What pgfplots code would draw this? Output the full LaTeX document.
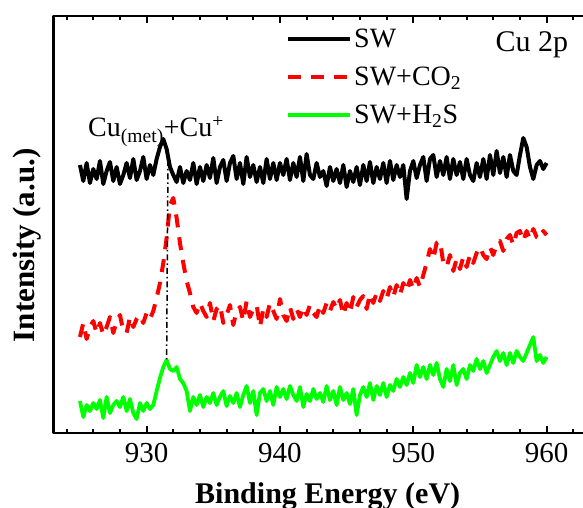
\documentclass[border=0pt]{standalone}
\usepackage{fontspec}
\setmainfont{Liberation Serif}
\usepackage{pgfplots}
\pgfplotsset{compat=1.18}
\usepackage{pgfplotstable}

\pgfplotstableread{
x y
925.00 268
925.25 252
925.50 270
925.75 250
926.00 264
926.25 254
926.50 272
926.75 249
927.00 262
927.25 271
927.50 252
927.75 266
928.00 249
928.25 258
928.50 270
928.75 255
929.00 274
929.25 253
929.50 262
929.75 276
930.00 254
930.25 268
930.50 258
930.75 274
931.00 286
931.25 294
931.50 284
931.75 266
932.00 258
932.25 251
932.50 266
932.75 250
933.00 262
933.25 253
933.50 270
933.75 249
934.00 266
934.25 252
934.50 268
934.75 255
935.00 275
935.25 250
935.50 266
935.75 273
936.00 252
936.25 270
936.50 277
936.75 254
937.00 270
937.25 249
937.50 276
937.75 256
938.00 268
938.25 251
938.50 266
938.75 250
939.00 274
939.25 254
939.50 270
939.75 253
940.00 270
940.25 258
940.50 274
940.75 253
941.00 270
941.25 256
941.50 276
941.75 252
942.00 279
942.25 258
942.50 254
942.75 270
943.00 256
943.25 262
943.50 247
943.75 266
944.00 252
944.25 264
944.50 250
944.75 268
945.00 246
945.25 262
945.50 251
945.75 266
946.00 248
946.25 268
946.50 252
946.75 271
947.00 250
947.25 266
947.50 254
947.75 270
948.00 250
948.25 272
948.50 253
948.75 268
949.00 256
949.25 268
949.50 234
949.75 262
950.00 272
950.25 255
950.50 268
950.75 276
951.00 252
951.25 274
951.50 278
951.75 256
952.00 272
952.25 258
952.50 276
952.75 254
953.00 274
953.25 258
953.50 271
953.75 254
954.00 274
954.25 258
954.50 252
954.75 270
955.00 256
955.25 274
955.50 254
955.75 278
956.00 258
956.25 282
956.50 260
956.75 276
957.00 256
957.25 278
957.50 262
957.75 258
958.00 278
958.25 295
958.50 286
958.75 266
959.00 254
959.25 268
959.50 272
959.75 264
960.00 270
}\sw

\pgfplotstableread{
x y
925.00 96
925.25 110
925.50 94
925.75 106
926.00 112
926.25 100
926.50 110
926.75 98
927.00 106
927.25 116
927.50 100
927.75 112
928.00 118
928.25 102
928.50 100
928.75 116
929.00 106
929.25 114
929.50 118
929.75 110
930.00 120
930.25 114
930.50 122
930.75 135
931.00 150
931.25 170
931.50 195
931.75 228
932.00 235
932.25 215
932.50 190
932.75 170
933.00 152
933.25 140
933.50 126
933.75 120
934.00 130
934.25 122
934.50 116
934.75 130
935.00 112
935.25 124
935.50 128
935.75 110
936.00 118
936.25 128
936.50 108
936.75 122
937.00 126
937.25 112
937.50 132
937.75 116
938.00 124
938.25 128
938.50 106
938.75 124
939.00 116
939.25 130
939.50 122
939.75 114
940.00 134
940.25 118
940.50 112
940.75 126
941.00 114
941.25 124
941.50 116
941.75 126
942.00 118
942.25 128
942.50 120
942.75 116
943.00 128
943.25 120
943.50 130
943.75 122
944.00 131
944.25 124
944.50 133
944.75 118
945.00 130
945.25 120
945.50 136
945.75 126
946.00 133
946.25 137
946.50 124
946.75 139
947.00 130
947.25 140
947.50 132
947.75 142
948.00 134
948.25 146
948.50 136
948.75 148
949.00 138
949.25 150
949.50 142
949.75 153
950.00 144
950.25 155
950.50 146
950.75 158
951.00 170
951.25 184
951.50 174
951.75 190
952.00 192
952.25 170
952.50 166
952.75 178
953.00 162
953.25 174
953.50 164
953.75 176
954.00 166
954.25 178
954.50 170
954.75 180
955.00 186
955.25 178
955.50 174
955.75 186
956.00 178
956.25 188
956.50 192
956.75 182
957.00 194
957.25 198
957.50 188
957.75 200
958.00 202
958.25 192
958.50 202
958.75 194
959.00 204
959.25 196
959.50 194
959.75 202
960.00 198
}\swco

\pgfplotstableread{
x y
925.00 32
925.25 16
925.50 28
925.75 22
926.00 30
926.25 24
926.50 33
926.75 15
927.00 36
927.25 20
927.50 28
927.75 32
928.00 26
928.25 36
928.50 22
928.75 34
929.00 20
929.25 14
929.50 30
929.75 22
930.00 30
930.25 24
930.50 28
930.75 42
931.00 55
931.25 66
931.50 73
931.75 64
932.00 62
932.25 66
932.50 54
932.75 50
933.00 42
933.25 22
933.50 36
933.75 28
934.00 38
934.25 26
934.50 36
934.75 30
935.00 40
935.25 28
935.50 36
935.75 42
936.00 27
936.25 37
936.50 30
936.75 40
937.00 26
937.25 38
937.50 47
937.75 30
938.00 42
938.25 18
938.50 40
938.75 44
939.00 32
939.25 42
939.50 28
939.75 46
940.00 36
940.25 44
940.50 34
940.75 47
941.00 38
941.25 32
941.50 46
941.75 26
942.00 39
942.25 32
942.50 44
942.75 34
943.00 40
943.25 31
943.50 47
943.75 33
944.00 42
944.25 28
944.50 46
944.75 33
945.00 40
945.25 29
945.50 44
945.75 18
946.00 38
946.25 46
946.50 36
946.75 50
947.00 33
947.25 47
947.50 38
947.75 50
948.00 36
948.25 48
948.50 42
948.75 54
949.00 46
949.25 56
949.50 48
949.75 60
950.00 50
950.25 68
950.50 56
950.75 66
951.00 54
951.25 68
951.50 58
951.75 70
952.00 54
952.25 46
952.50 64
952.75 52
953.00 68
953.25 48
953.50 60
953.75 64
954.00 54
954.25 68
954.50 62
954.75 74
955.00 64
955.25 72
955.50 60
955.75 68
956.00 76
956.25 82
956.50 72
956.75 80
957.00 68
957.25 80
957.50 70
957.75 82
958.00 76
958.25 72
958.50 80
958.75 88
959.00 96
959.25 72
959.50 78
959.75 70
960.00 76
}\swhs

\pgfplotstableread{
x y
931.6 273
931.5 73
}\guide

\definecolor{myred}{RGB}{255,0,0}
\definecolor{mygreen}{RGB}{0,255,0}

\begin{document}
\begin{tikzpicture}
\begin{axis}[
  scale only axis,
  width=546.67pt, height=417pt,
  xmin=923, xmax=964, ymin=0, ymax=417,
  xtick={930,940,950,960},
  minor xtick={924,926,...,962},
  ytick=\empty,
  axis line style={line width=2.5pt},
  every tick/.style={line width=2pt, black},
  major tick length=7pt, minor tick length=4pt,
  tick align=inside,
  /pgf/number format/assume math mode=true,
  xticklabel style={font=\fontsize{29}{29}\selectfont, yshift=-7pt},
  xlabel={\bfseries Binding Energy (eV)},
  ylabel={\bfseries Intensity (a.u.)},
  xlabel style={font=\fontsize{30}{30}\selectfont, at={(axis description cs:0.502,-0.168)}, anchor=base},
  ylabel style={font=\fontsize{31}{31}\selectfont, at={(axis description cs:-0.048,0.45)}, anchor=center},
  legend style={draw=none, fill=none, at={(axis description cs:0.4257,0.975)}, anchor=north west,
    font=\fontsize{28}{28}\selectfont, row sep=14pt, inner sep=0pt},
  legend cell align=left,
  legend image code/.code={\draw[#1] (0pt,0pt) -- (62pt,0pt);},
  line join=round,
]
\addplot[black, line width=4pt] table[x=x,y=y] {\sw};
\addlegendentry{SW}
\addplot[myred, line width=4pt, dash pattern=on 13pt off 10pt] table[x=x,y=y] {\swco};
\addlegendentry{SW+CO\textsubscript{2}}
\addplot[mygreen, line width=3.8pt] table[x=x,y=y] {\swhs};
\addlegendentry{SW+H\textsubscript{2}S}
\addplot[black, line width=1.5pt, dash pattern=on 6pt off 3pt on 1.5pt off 3pt, forget plot] table[x=x,y=y] {\guide};
\node[font=\fontsize{28}{28}\selectfont, anchor=base west, inner sep=0pt] at (axis cs:925.6,296) {Cu\textsubscript{(met)}+Cu\textsuperscript{+}};
\node[font=\fontsize{30}{30}\selectfont, anchor=base, inner sep=0pt] at (axis cs:958.9,381) {Cu 2p};
\end{axis}
\pgfresetboundingbox
\useasboundingbox (-53.3pt,-75pt) rectangle (529.7pt,433pt);
\end{tikzpicture}
\end{document}
